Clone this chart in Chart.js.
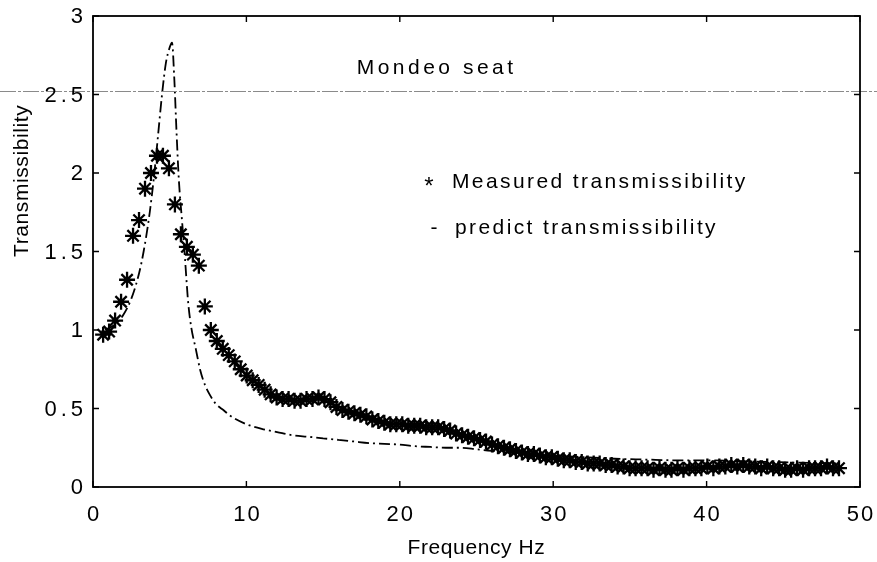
<!DOCTYPE html>
<html>
<head>
<meta charset="utf-8">
<title>Mondeo seat transmissibility</title>
<script src="https://cdn.jsdelivr.net/npm/chart.js@4.4.1/dist/chart.umd.min.js"></script>
<style>
  html, body { margin: 0; padding: 0; background: #fff; }
  #wrap { width: 877px; height: 562px; }
</style>
</head>
<body>
<div id="wrap"><canvas id="chart" width="877" height="562"></canvas></div>
<script>
// measured points (frequency in Hz, transmissibility)
const freqMeasured = [
  0.66, 1.05, 1.44, 1.83, 2.22, 2.61, 3.00, 3.39, 3.78, 4.17,
  4.56, 4.95, 5.34, 5.73, 6.12, 6.51, 6.90, 7.29, 7.68, 8.07,
  8.46, 8.85, 9.24, 9.63, 10.02, 10.41, 10.80, 11.19, 11.58, 11.97,
  12.36, 12.75, 13.14, 13.53, 13.92, 14.31, 14.70, 15.09, 15.48, 15.87,
  16.26, 16.65, 17.04, 17.43, 17.82, 18.21, 18.60, 18.99, 19.38, 19.77,
  20.16, 20.55, 20.94, 21.33, 21.72, 22.11, 22.50, 22.89, 23.28, 23.67,
  24.06, 24.45, 24.84, 25.23, 25.62, 26.01, 26.40, 26.79, 27.18, 27.57,
  27.96, 28.35, 28.74, 29.13, 29.52, 29.91, 30.30, 30.69, 31.08, 31.47,
  31.86, 32.25, 32.64, 33.03, 33.42, 33.81, 34.20, 34.59, 34.98, 35.37,
  35.76, 36.15, 36.54, 36.93, 37.32, 37.71, 38.10, 38.49, 38.88, 39.27,
  39.66, 40.05, 40.44, 40.83, 41.22, 41.61, 42.00, 42.39, 42.78, 43.17,
  43.56, 43.95, 44.34, 44.73, 45.12, 45.51, 45.90, 46.29, 46.68, 47.07,
  47.46, 47.85, 48.24, 48.63
];
const measured = [
  0.97, 0.99, 1.06, 1.18, 1.32, 1.60, 1.70, 1.90, 2.00, 2.11,
  2.11, 2.03, 1.80, 1.61, 1.53, 1.48, 1.41, 1.15, 1.00, 0.93,
  0.88, 0.84, 0.80, 0.75, 0.71, 0.68, 0.65, 0.62, 0.59, 0.57,
  0.56, 0.56, 0.55, 0.55, 0.56, 0.56, 0.57, 0.56, 0.54, 0.51,
  0.49, 0.48, 0.47, 0.46, 0.45, 0.43, 0.42, 0.41, 0.40, 0.40,
  0.40, 0.39, 0.39, 0.39, 0.38, 0.38, 0.38, 0.37, 0.36, 0.34,
  0.33, 0.32, 0.31, 0.30, 0.29, 0.27, 0.26, 0.25, 0.24, 0.23,
  0.22, 0.21, 0.21, 0.20, 0.19, 0.19, 0.18, 0.17, 0.17, 0.16,
  0.16, 0.15, 0.15, 0.15, 0.14, 0.14, 0.13, 0.13, 0.12, 0.12,
  0.12, 0.12, 0.11, 0.12, 0.11, 0.11, 0.12, 0.11, 0.12, 0.12,
  0.12, 0.13, 0.12, 0.13, 0.13, 0.14, 0.13, 0.14, 0.13, 0.13,
  0.12, 0.13, 0.12, 0.12, 0.11, 0.11, 0.12, 0.11, 0.12, 0.12,
  0.12, 0.13, 0.12, 0.12
];

// predicted curve
const freqPredict = [
  0.8, 1.5, 2.0, 2.5, 3.0, 3.3, 3.7, 4.0, 4.25, 4.5,
  4.75, 5.0, 5.15, 5.3, 5.45, 5.6, 5.8, 6.0, 6.2, 6.4,
  6.7, 7.0, 7.3, 7.6, 8.0, 8.5, 9.0, 10, 11, 12,
  13, 14, 15, 16, 17, 18, 19, 20, 21, 22,
  23, 24, 25, 26, 27, 28, 29, 30, 32, 34,
  36, 38, 40, 42, 44, 46, 48.5
];
const predicted = [
  1.00, 1.04, 1.10, 1.20, 1.36, 1.50, 1.75, 2.00, 2.25, 2.50,
  2.70, 2.80, 2.83, 2.60, 2.25, 1.95, 1.70, 1.45, 1.18, 1.02,
  0.88, 0.74, 0.65, 0.59, 0.53, 0.49, 0.45, 0.40, 0.37, 0.35,
  0.33, 0.32, 0.31, 0.30, 0.29, 0.28, 0.275, 0.27, 0.26, 0.255,
  0.25, 0.25, 0.24, 0.23, 0.22, 0.21, 0.205, 0.20, 0.19, 0.18,
  0.175, 0.17, 0.17, 0.165, 0.16, 0.155, 0.15
];

const xTicks = [0, 10, 20, 30, 40, 50];
const yTicks = [0, 0.5, 1, 1.5, 2, 2.5, 3];
const yTickLabels = ['0', '0.5', '1', '1.5', '2', '2.5', '3'];

const titleText = 'Mondeo seat';
const legendLabels = ['Measured transmissibility', 'predict transmissibility'];
const xTitle = 'Frequency Hz';
const yTitle = 'Transmissibility';

const FONT = '"Liberation Sans", Arial, Helvetica, sans-serif';

// draws the MATLAB-style box, inward ticks, labels and text annotations
const matlabAxes = {
  id: 'matlabAxes',
  afterDraw(chart) {
    const ctx = chart.ctx;
    const { left, right, top, bottom } = chart.chartArea;
    const xs = chart.scales.x;
    const ys = chart.scales.y;
    ctx.save();

    // scan artefact line across the page at 2.5
    const yScan = Math.round(ys.getPixelForValue(2.52)) + 0.5;
    ctx.strokeStyle = '#8a8a8a';
    ctx.lineWidth = 1;
    ctx.setLineDash([16, 2, 3, 2]);
    ctx.beginPath();
    ctx.moveTo(0, yScan);
    ctx.lineTo(chart.width, yScan);
    ctx.stroke();
    ctx.setLineDash([]);

    // box
    ctx.strokeStyle = '#000';
    ctx.lineWidth = 1.8;
    ctx.strokeRect(left, top, right - left, bottom - top);

    // inward ticks
    const tl = 6;
    ctx.lineWidth = 1.4;
    ctx.beginPath();
    xTicks.forEach(v => {
      const px = xs.getPixelForValue(v);
      ctx.moveTo(px, bottom); ctx.lineTo(px, bottom - tl);
      ctx.moveTo(px, top); ctx.lineTo(px, top + tl);
    });
    yTicks.forEach(v => {
      const py = ys.getPixelForValue(v);
      ctx.moveTo(left, py); ctx.lineTo(left + tl, py);
      ctx.moveTo(right, py); ctx.lineTo(right - tl, py);
    });
    ctx.stroke();

    ctx.fillStyle = '#000';

    // x tick labels
    ctx.font = '22px ' + FONT;
    ctx.letterSpacing = '2px';
    ctx.textAlign = 'center';
    ctx.textBaseline = 'alphabetic';
    xTicks.forEach(v => {
      ctx.fillText(String(v), xs.getPixelForValue(v) + 1, bottom + 34);
    });

    // y tick labels
    ctx.letterSpacing = '4px';
    ctx.textAlign = 'right';
    ctx.textBaseline = 'middle';
    yTicks.forEach((v, i) => {
      ctx.fillText(yTickLabels[i], left - 6, ys.getPixelForValue(v) + 1);
    });

    // axis titles
    ctx.font = '21px ' + FONT;
    ctx.letterSpacing = '0.6px';
    ctx.textAlign = 'center';
    ctx.textBaseline = 'middle';
    ctx.fillText(xTitle, (left + right) / 2, bottom + 61);
    ctx.save();
    ctx.translate(22, ys.getPixelForValue(1.95));
    ctx.rotate(-Math.PI / 2);
    ctx.fillText(yTitle, 0, 0);
    ctx.restore();

    // title inside axes
    ctx.letterSpacing = '3.5px';
    ctx.textAlign = 'center';
    ctx.fillText(titleText, xs.getPixelForValue(22.4), ys.getPixelForValue(2.67));

    // legend text
    ctx.letterSpacing = '2.4px';
    ctx.textAlign = 'left';
    ctx.font = '24px ' + FONT;
    ctx.fillText('*', xs.getPixelForValue(21.6), ys.getPixelForValue(1.91));
    ctx.font = '21px ' + FONT;
    ctx.fillText(legendLabels[0], xs.getPixelForValue(23.4), ys.getPixelForValue(1.94));
    ctx.fillText('-', xs.getPixelForValue(22.0), ys.getPixelForValue(1.65));
    ctx.fillText(legendLabels[1], xs.getPixelForValue(23.6), ys.getPixelForValue(1.65));

    ctx.restore();
  }
};

document.addEventListener('DOMContentLoaded', function () {
  const ctx = document.getElementById('chart').getContext('2d');

  new Chart(ctx, {
    type: 'scatter',
    data: {
      datasets: [
        {
          label: legendLabels[1],
          data: freqPredict.map((f, i) => ({ x: f, y: predicted[i] })),
          showLine: true,
          borderColor: '#000',
          borderWidth: 1.8,
          borderDash: [11, 4, 2, 4],
          pointRadius: 0,
          cubicInterpolationMode: 'monotone'
        },
        {
          label: legendLabels[0],
          data: freqMeasured.map((f, i) => ({ x: f, y: measured[i] })),
          showLine: false,
          pointStyle: 'star',
          pointRadius: 8,
          borderColor: '#000',
          backgroundColor: '#000',
          pointBorderWidth: 2.3
        }
      ]
    },
    options: {
      responsive: false,
      animation: false,
      events: [],
      layout: { padding: { left: 93, right: 17, top: 16, bottom: 75 } },
      plugins: {
        legend: { display: false },
        tooltip: { enabled: false }
      },
      scales: {
        x: {
          type: 'linear',
          min: 0,
          max: 50,
          grid: { display: false, drawTicks: false },
          border: { display: false },
          ticks: { display: false, stepSize: 10 }
        },
        y: {
          min: 0,
          max: 3,
          grid: { display: false, drawTicks: false },
          border: { display: false },
          ticks: { display: false, stepSize: 0.5 }
        }
      }
    },
    plugins: [matlabAxes]
  });
});
</script>
</body>
</html>
